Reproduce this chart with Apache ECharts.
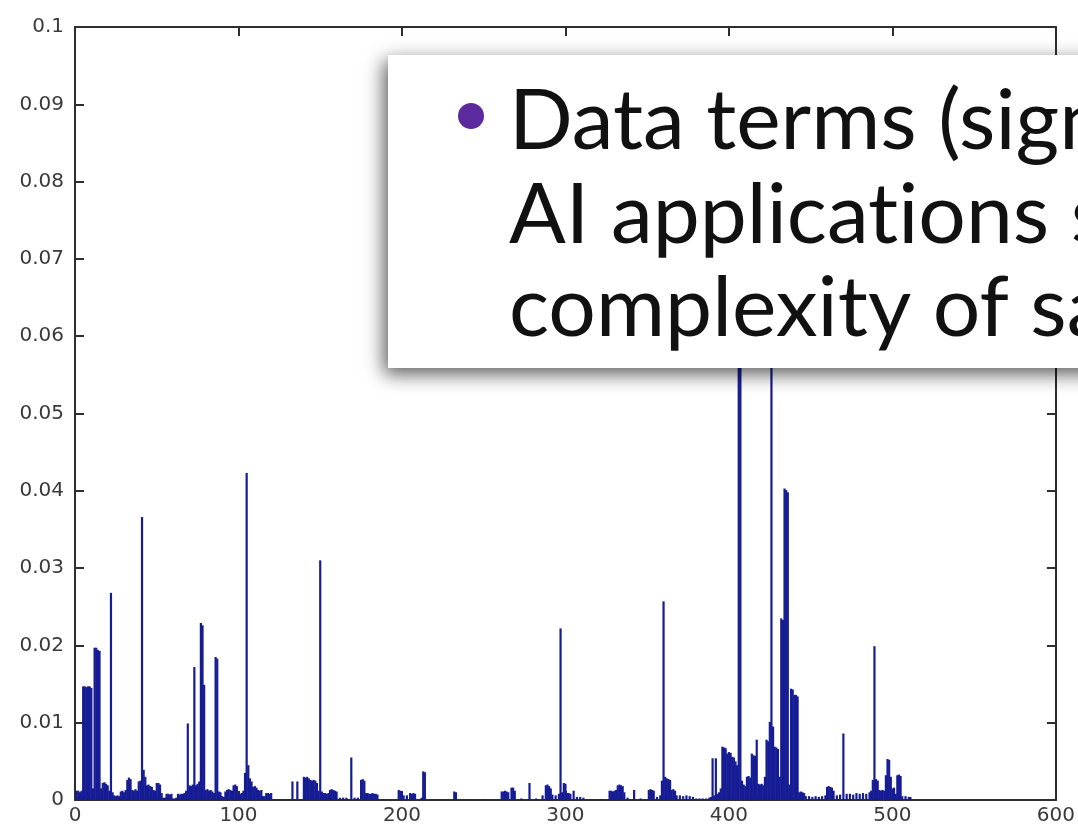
<!DOCTYPE html>
<html>
<head>
<meta charset="utf-8">
<script src="https://cdn.jsdelivr.net/npm/echarts@6/dist/echarts.min.js"></script>
<style>
  html, body { margin: 0; padding: 0; background: #fff; }
  #wrap { position: relative; width: 1078px; height: 831px; overflow: hidden; }
  #chart, #slide { position: absolute; left: 0; top: 0; width: 1078px; height: 831px; }
  #chart { filter: blur(0.6px); }
</style>
</head>
<body>
<div id="wrap">
  <div id="chart"></div>
  <div id="slide"></div>
</div>
<script>
// Term index (bin) and its weight; bins not listed are zero.
const termIds = [
  1, 2, 3, 4, 5, 6, 7, 8, 9, 10, 11, 12, 13, 14, 15, 16, 17, 18, 19, 20,
  21, 22, 23, 24, 25, 26, 27, 28, 29, 30, 31, 32, 33, 34, 35, 36, 37, 38, 39, 40,
  41, 42, 43, 44, 45, 46, 47, 48, 49, 50, 51, 52, 53, 54, 55, 56, 57, 58, 59, 60,
  61, 62, 63, 64, 65, 66, 67, 68, 69, 70, 71, 72, 73, 74, 75, 76, 77, 78, 79, 80,
  81, 82, 83, 84, 85, 86, 87, 88, 89, 90, 91, 92, 93, 94, 95, 96, 97, 98, 99, 100,
  101, 102, 103, 104, 105, 106, 107, 108, 109, 110, 111, 112, 113, 114, 115, 116, 117, 118, 119, 120,
  122, 125, 128, 131, 133, 136, 140, 141, 142, 143, 144, 145, 146, 147, 148, 149, 150, 151, 152, 153,
  154, 155, 156, 157, 158, 159, 160, 162, 164, 166, 169, 171, 173, 175, 176, 177, 178, 179, 180, 181,
  182, 183, 184, 185, 189, 193, 198, 199, 200, 201, 203, 205, 206, 207, 208, 212, 213, 214, 220, 226,
  232, 233, 240, 250, 261, 262, 263, 264, 265, 267, 268, 269, 273, 278, 282, 286, 288, 289, 290, 291,
  292, 294, 296, 297, 298, 299, 300, 301, 302, 303, 305, 307, 309, 311, 316, 322, 327, 328, 329, 330,
  331, 332, 333, 334, 335, 336, 338, 342, 346, 351, 352, 353, 354, 356, 358, 359, 360, 361, 362, 363,
  364, 365, 366, 367, 368, 370, 372, 374, 376, 378, 380, 382, 384, 386, 388, 389, 390, 391, 392, 393,
  394, 395, 396, 397, 398, 399, 400, 401, 402, 403, 404, 405, 406, 407, 408, 409, 410, 411, 412, 413,
  414, 415, 416, 417, 418, 419, 420, 421, 422, 423, 424, 425, 426, 427, 428, 429, 430, 431, 432, 433,
  434, 435, 436, 437, 438, 439, 440, 441, 442, 443, 444, 445, 446, 447, 449, 451, 453, 455, 457, 459,
  460, 461, 462, 463, 464, 466, 468, 470, 472, 474, 476, 478, 480, 482, 484, 486, 487, 488, 489, 490,
  491, 492, 493, 494, 495, 496, 497, 498, 499, 500, 501, 502, 503, 504, 505, 506, 508, 510, 511
];

const termWeights = [
  0.0012, 0.0012, 0.0010, 0.0012, 0.0147, 0.0147, 0.0146, 0.0147, 0.0147, 0.0145, 0.0015, 0.0197, 0.0197, 0.0194, 0.0193, 0.0015, 0.0022, 0.0023, 0.0021, 0.0019,
  0.0012, 0.0268, 0.0010, 0.0006, 0.0005, 0.0006, 0.0005, 0.0011, 0.0012, 0.0010, 0.0013, 0.0026, 0.0029, 0.0027, 0.0013, 0.0012, 0.0014, 0.0012, 0.0024, 0.0025,
  0.0366, 0.0039, 0.0030, 0.0019, 0.0020, 0.0018, 0.0017, 0.0013, 0.0012, 0.0022, 0.0022, 0.0020, 0.0009, 0.0003, 0.0003, 0.0008, 0.0008, 0.0007, 0.0008, 0.0002,
  0.0002, 0.0003, 0.0008, 0.0007, 0.0008, 0.0008, 0.0009, 0.0012, 0.0099, 0.0019, 0.0018, 0.0020, 0.0172, 0.0019, 0.0021, 0.0024, 0.0229, 0.0226, 0.0149, 0.0013,
  0.0014, 0.0012, 0.0013, 0.0011, 0.0009, 0.0185, 0.0183, 0.0011, 0.0010, 0.0005, 0.0004, 0.0011, 0.0013, 0.0014, 0.0013, 0.0012, 0.0019, 0.0020, 0.0018, 0.0009,
  0.0008, 0.0009, 0.0012, 0.0035, 0.0423, 0.0045, 0.0028, 0.0024, 0.0017, 0.0018, 0.0016, 0.0013, 0.0012, 0.0013, 0.0005, 0.0005, 0.0009, 0.0009, 0.0008, 0.0009,
  0.0001, 0.0001, 0.0001, 0.0001, 0.0024, 0.0024, 0.0030, 0.0029, 0.0030, 0.0028, 0.0026, 0.0025, 0.0026, 0.0025, 0.0022, 0.0012, 0.0310, 0.0011, 0.0009, 0.0009,
  0.0008, 0.0009, 0.0013, 0.0014, 0.0013, 0.0012, 0.0011, 0.0003, 0.0003, 0.0003, 0.0055, 0.0003, 0.0003, 0.0026, 0.0027, 0.0025, 0.0009, 0.0009, 0.0008, 0.0008,
  0.0009, 0.0008, 0.0008, 0.0007, 0.0001, 0.0001, 0.0013, 0.0012, 0.0010, 0.0006, 0.0006, 0.0009, 0.0008, 0.0009, 0.0008, 0.0003, 0.0037, 0.0036, 0.0001, 0.0001,
  0.0011, 0.0010, 0.0001, 0.0001, 0.0011, 0.0011, 0.0012, 0.0011, 0.0010, 0.0016, 0.0016, 0.0012, 0.0002, 0.0022, 0.0002, 0.0006, 0.0019, 0.0020, 0.0018, 0.0015,
  0.0007, 0.0006, 0.0008, 0.0222, 0.0010, 0.0022, 0.0021, 0.0009, 0.0009, 0.0008, 0.0012, 0.0004, 0.0004, 0.0003, 0.0001, 0.0001, 0.0012, 0.0012, 0.0011, 0.0012,
  0.0013, 0.0019, 0.0020, 0.0019, 0.0018, 0.0010, 0.0003, 0.0013, 0.0002, 0.0013, 0.0014, 0.0013, 0.0012, 0.0004, 0.0006, 0.0025, 0.0257, 0.0030, 0.0028, 0.0027,
  0.0026, 0.0013, 0.0014, 0.0012, 0.0006, 0.0006, 0.0005, 0.0006, 0.0005, 0.0004, 0.0002, 0.0002, 0.0002, 0.0002, 0.0003, 0.0004, 0.0054, 0.0006, 0.0054, 0.0008,
  0.0010, 0.0015, 0.0069, 0.0068, 0.0067, 0.0060, 0.0062, 0.0061, 0.0056, 0.0055, 0.0050, 0.0045, 0.0720, 0.0700, 0.0025, 0.0020, 0.0018, 0.0030, 0.0031, 0.0029,
  0.0060, 0.0058, 0.0057, 0.0078, 0.0021, 0.0020, 0.0021, 0.0019, 0.0030, 0.0078, 0.0076, 0.0101, 0.0660, 0.0095, 0.0069, 0.0068, 0.0066, 0.0030, 0.0235, 0.0233,
  0.0403, 0.0401, 0.0398, 0.0020, 0.0144, 0.0143, 0.0136, 0.0136, 0.0134, 0.0010, 0.0011, 0.0010, 0.0009, 0.0005, 0.0005, 0.0004, 0.0005, 0.0004, 0.0005, 0.0006,
  0.0017, 0.0018, 0.0017, 0.0016, 0.0012, 0.0006, 0.0007, 0.0086, 0.0008, 0.0008, 0.0007, 0.0009, 0.0008, 0.0009, 0.0008, 0.0010, 0.0012, 0.0026, 0.0199, 0.0027,
  0.0025, 0.0013, 0.0012, 0.0013, 0.0012, 0.0032, 0.0053, 0.0052, 0.0030, 0.0015, 0.0016, 0.0008, 0.0032, 0.0033, 0.0031, 0.0005, 0.0005, 0.0004, 0.0004
];

const xTickLabels = ['0', '100', '200', '300', '400', '500', '600'];
const yTickLabels = ['0', '0.01', '0.02', '0.03', '0.04', '0.05', '0.06', '0.07', '0.08', '0.09', '0.1'];

// Slide bullet text, one entry per line; each line is a list of runs drawn
// as separate text elements so that "t" and "i" stay as two letters.
const slideLines = [
  ['Data terms (sign'],
  ['AI applicat', 'ions s'],
  ['complexity of sa']
];

const barData = termIds.map((id, i) => [id, termWeights[i]]);

const frameColor = '#2e2e2e';
const tickFont = { fontFamily: 'DejaVu Sans', fontSize: 20, color: '#3a3a3a' };

function frameAxis(extra) {
  return Object.assign({
    type: 'value',
    axisLine: { show: true, onZero: false, lineStyle: { color: frameColor, width: 2 } },
    axisTick: { show: true, inside: true, length: 9, lineStyle: { color: frameColor, width: 2 } },
    splitLine: { show: false }
  }, extra);
}

// Bar chart layer
const chart = echarts.init(document.getElementById('chart'), null, { renderer: 'canvas' });
chart.setOption({
  animation: false,
  backgroundColor: '#fff',
  grid: { left: 75, right: 21, top: 27, bottom: 31, containLabel: false },
  xAxis: [
    frameAxis({
      position: 'bottom', min: 0, max: 600, interval: 100,
      axisLabel: Object.assign({ margin: 6, formatter: (v, i) => xTickLabels[i] }, tickFont)
    }),
    frameAxis({
      position: 'top', min: 0, max: 600, interval: 100,
      axisLabel: { show: false }
    })
  ],
  yAxis: [
    frameAxis({
      position: 'left', min: 0, max: 0.1, interval: 0.01,
      axisLabel: Object.assign({ margin: 11, formatter: (v, i) => yTickLabels[i] }, tickFont)
    }),
    frameAxis({
      position: 'right', min: 0, max: 0.1, interval: 0.01,
      axisLabel: { show: false }
    })
  ],
  series: [{
    type: 'bar',
    xAxisIndex: 0,
    yAxisIndex: 0,
    data: barData,
    barWidth: 2.2,
    itemStyle: { color: '#161c94' },
    silent: true,
    z: 2
  }]
});

// Slide callout layer on top of the chart
const slideFont = '84px Lato';
const measureCtx = document.createElement('canvas').getContext('2d');
measureCtx.font = slideFont;

const slideText = [];
slideLines.forEach((runs, i) => {
  let x = 509;
  runs.forEach(run => {
    slideText.push({
      type: 'text',
      z: 101,
      style: {
        text: run,
        x: x,
        y: 122 + i * 93.5,
        fill: '#111',
        font: slideFont,
        textAlign: 'left',
        textVerticalAlign: 'middle'
      }
    });
    x += measureCtx.measureText(run).width;
  });
});

const slide = echarts.init(document.getElementById('slide'), null, { renderer: 'canvas' });
slide.setOption({
  animation: false,
  backgroundColor: 'transparent',
  graphic: [
    {
      type: 'rect',
      z: 100,
      shape: { x: 388, y: 55, width: 760, height: 313 },
      style: {
        fill: '#fff',
        shadowBlur: 18,
        shadowColor: 'rgba(0,0,0,0.65)',
        shadowOffsetX: -4,
        shadowOffsetY: 6
      }
    },
    {
      type: 'circle',
      z: 101,
      shape: { cx: 471, cy: 116, r: 13 },
      style: { fill: '#5a2a9e' }
    }
  ].concat(slideText)
});
</script>
</body>
</html>
